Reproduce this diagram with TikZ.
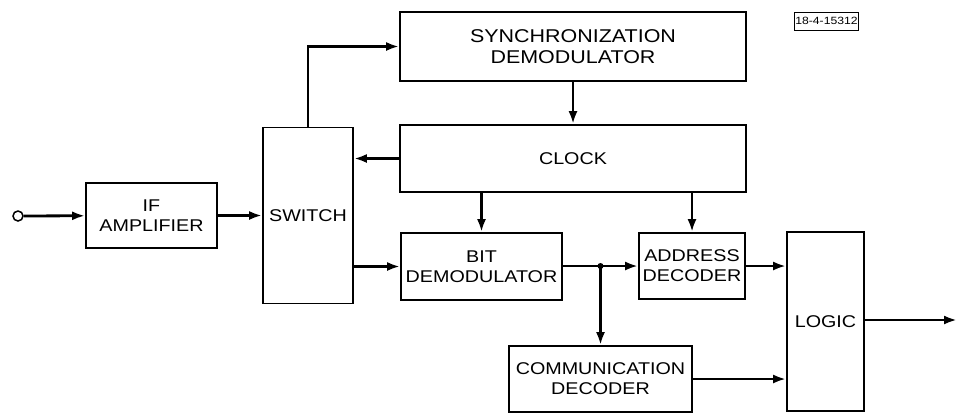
\documentclass[tikz,border=0pt]{standalone}
\usepackage{fontspec}
\setmainfont{Liberation Sans}[FakeStretch=1.16]
\usetikzlibrary{arrows.meta}

\tikzset{
  block/.style={draw,line width=1.8pt,align=center,inner sep=1pt,font=\fontsize{17}{20}\selectfont},
  bigblock/.style={block,font=\fontsize{18.5}{21}\selectfont},
  arr/.style={line width=2.8pt,-{Latex[length=13pt,width=9pt]}}
}

\begin{document}
\begin{tikzpicture}[x=1pt,y=-1pt]
        \useasboundingbox (0,0) rectangle (957,413);
        % blocks
        \node[block,minimum width=131pt,minimum height=65pt](ifamp)at(151.5,215.5){IF\\AMPLIFIER};
        \node[block,minimum width=90pt,minimum height=176pt](switch)at(308,215.5){SWITCH};
        \node[bigblock,minimum width=346pt,minimum height=69pt](sync)at(573,46.5){SYNCHRONIZATION\\DEMODULATOR};
        \node[block,minimum width=346pt,minimum height=67pt](clock)at(573,158.5){CLOCK};
        \node[block,minimum width=161pt,minimum height=67pt](bitdem)at(481.5,266.5){BIT\\DEMODULATOR};
        \node[block,minimum width=106pt,minimum height=66pt](addr)at(692,266){ADDRESS\\DECODER};
        \node[block,minimum width=183pt,minimum height=66pt](comm)at(600.5,379){COMMUNICATION\\DECODER};
        \node[block,minimum width=77pt,minimum height=179pt](logic)at(825.5,321.5){LOGIC};
        \node[draw,line width=0.8pt,inner sep=1pt,minimum width=61pt,minimum height=18pt,font=\fontsize{10.5}{11}\selectfont](tag)at(826.5,21){18-4-15312};
        % input and output
        \node[circle,draw,line width=1.5pt,inner sep=0pt,minimum size=10pt](in)at(18,216){};
        \coordinate (out) at (957,320);
        \coordinate (j) at (comm.north |- addr.west);
        % connectors
        \draw[arr] (in)--(ifamp);
        \draw[arr] (ifamp.east)--(ifamp.east -| switch.west);
        \draw[arr] (switch.north)|-(sync.west);
        \draw[arr] (sync.south)--(clock.north);
        \draw[arr] (clock.west)--(clock.west -| switch.east);
        \draw[arr] (bitdem.west -| switch.east)--(bitdem.west);
        \draw[arr] (bitdem.north |- clock.south)--(bitdem.north);
        \draw[arr] (addr.north |- clock.south)--(addr.north);
        \draw[arr] (bitdem.east |- addr.west)--(addr.west);
        \draw[arr] (j)--(comm.north);
        \fill (j) circle (3pt);
        \draw[arr] (addr.east)--(addr.east -| logic.west);
        \draw[arr] (comm.east)--(comm.east -| logic.west);
        \draw[arr] (logic.east |- out)--(out);
    \end{tikzpicture}
\end{document}
